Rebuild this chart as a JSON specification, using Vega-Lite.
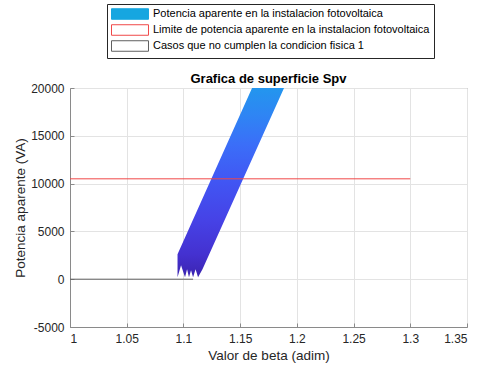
{
  "$schema": "https://vega.github.io/schema/vega-lite/v6.json",
  "width": 397,
  "height": 239,
  "autosize": {"type": "none"},
  "padding": {"left": 70, "top": 88, "right": 14, "bottom": 42},
  "background": "white",
  "title": {
    "text": "Grafica de superficie Spv",
    "font": "Liberation Sans",
    "fontSize": 13,
    "fontWeight": "bold",
    "color": "#000000",
    "offset": 3,
    "dy": 85
  },
  "datasets": {
    "superficie": [
      {"i": 1, "beta": 1.0948, "S": 2604},
      {"i": 2, "beta": 1.1605, "S": 20000},
      {"i": 3, "beta": 1.1887, "S": 20000},
      {"i": 4, "beta": 1.1168, "S": 1042},
      {"i": 5, "beta": 1.1129, "S": 208},
      {"i": 6, "beta": 1.1107, "S": 1042},
      {"i": 7, "beta": 1.1085, "S": 208},
      {"i": 8, "beta": 1.1067, "S": 938},
      {"i": 9, "beta": 1.1049, "S": 208},
      {"i": 10, "beta": 1.1032, "S": 1042},
      {"i": 11, "beta": 1.1014, "S": 208},
      {"i": 12, "beta": 1.0979, "S": 1458},
      {"i": 13, "beta": 1.0948, "S": 208}
    ],
    "lineas": [
      {"serie": "Limite de potencia aparente en la instalacion fotovoltaica", "beta": 1.0, "beta2": 1.3, "S": 10500},
      {"serie": "Casos que no cumplen la condicion fisica 1", "beta": 1.0, "beta2": 1.1085, "S": 0}
    ]
  },
  "layer": [
    {
      "data": {"name": "superficie"},
      "mark": {
        "type": "line",
        "filled": true,
        "interpolate": "linear-closed",
        "strokeWidth": 0,
        "fill": {
          "gradient": "linear",
          "x1": 0, "y1": 1, "x2": 0, "y2": 0,
          "stops": [
            {"offset": 0, "color": "#3b24b0"},
            {"offset": 0.12, "color": "#4431d0"},
            {"offset": 0.3, "color": "#4642e6"},
            {"offset": 0.5, "color": "#4155f3"},
            {"offset": 0.7, "color": "#3b6ef8"},
            {"offset": 0.85, "color": "#2f84f4"},
            {"offset": 1, "color": "#2396ee"}
          ]
        }
      },
      "encoding": {
        "x": {
          "field": "beta",
          "type": "quantitative",
          "scale": {"domain": [1, 1.35], "nice": false, "zero": false},
          "axis": {
            "title": "Valor de beta (adim)",
            "values": [1, 1.05, 1.1, 1.15, 1.2, 1.25, 1.3, 1.35],
            "format": "~g"
          }
        },
        "y": {
          "field": "S",
          "type": "quantitative",
          "scale": {"domain": [-5000, 20000], "nice": false, "zero": false},
          "axis": {
            "title": "Potencia aparente (VA)",
            "values": [-5000, 0, 5000, 10000, 15000, 20000],
            "labelExpr": "'' + datum.value"
          }
        },
        "order": {"field": "i", "type": "quantitative"}
      }
    },
    {
      "data": {"name": "lineas"},
      "mark": {"type": "rule", "strokeWidth": 1},
      "encoding": {
        "x": {"field": "beta", "type": "quantitative"},
        "x2": {"field": "beta2"},
        "y": {"field": "S", "type": "quantitative"},
        "stroke": {
          "field": "serie",
          "type": "nominal",
          "scale": {
            "domain": [
              "Potencia aparente en la instalacion fotovoltaica",
              "Limite de potencia aparente en la instalacion fotovoltaica",
              "Casos que no cumplen la condicion fisica 1"
            ],
            "range": ["#16a6e0", "#f04848", "#606060"]
          },
          "legend": {
            "title": null,
            "orient": "none",
            "legendX": 37,
            "legendY": -84,
            "direction": "vertical",
            "symbolType": "M-1,-0.955H5.727V0.955H-1Z",
            "symbolSize": 121,
            "symbolStrokeWidth": 1,
            "labelFont": "Liberation Sans",
            "labelFontSize": 11,
            "labelColor": "#000000",
            "labelOffset": 30,
            "labelLimit": 400,
            "rowPadding": 0,
            "padding": 4,
            "strokeColor": "#262626",
            "fillColor": "#ffffff",
            "cornerRadius": 0,
            "encode": {
              "symbols": {
                "update": {
                  "fill": {"signal": "datum.value === 'Potencia aparente en la instalacion fotovoltaica' ? '#16a6e0' : '#ffffff'"},
                  "fillOpacity": {"value": 1}
                }
              }
            }
          }
        }
      }
    }
  ],
  "config": {
    "view": {"stroke": "#8a8a8a", "strokeWidth": 1},
    "axis": {
      "labelFont": "Liberation Sans",
      "labelFontSize": 12,
      "labelColor": "#262626",
      "titleFont": "Liberation Sans",
      "titleFontSize": 13.5,
      "titleFontWeight": "normal",
      "titleColor": "#262626",
      "domainColor": "#8a8a8a",
      "gridColor": "#e3e3e3",
      "grid": true,
      "ticks": true,
      "tickSize": -4,
      "tickColor": "#8a8a8a",
      "labelPadding": 10
    },
    "axisX": {"titlePadding": 4},
    "axisY": {"titlePadding": 3}
  }
}
